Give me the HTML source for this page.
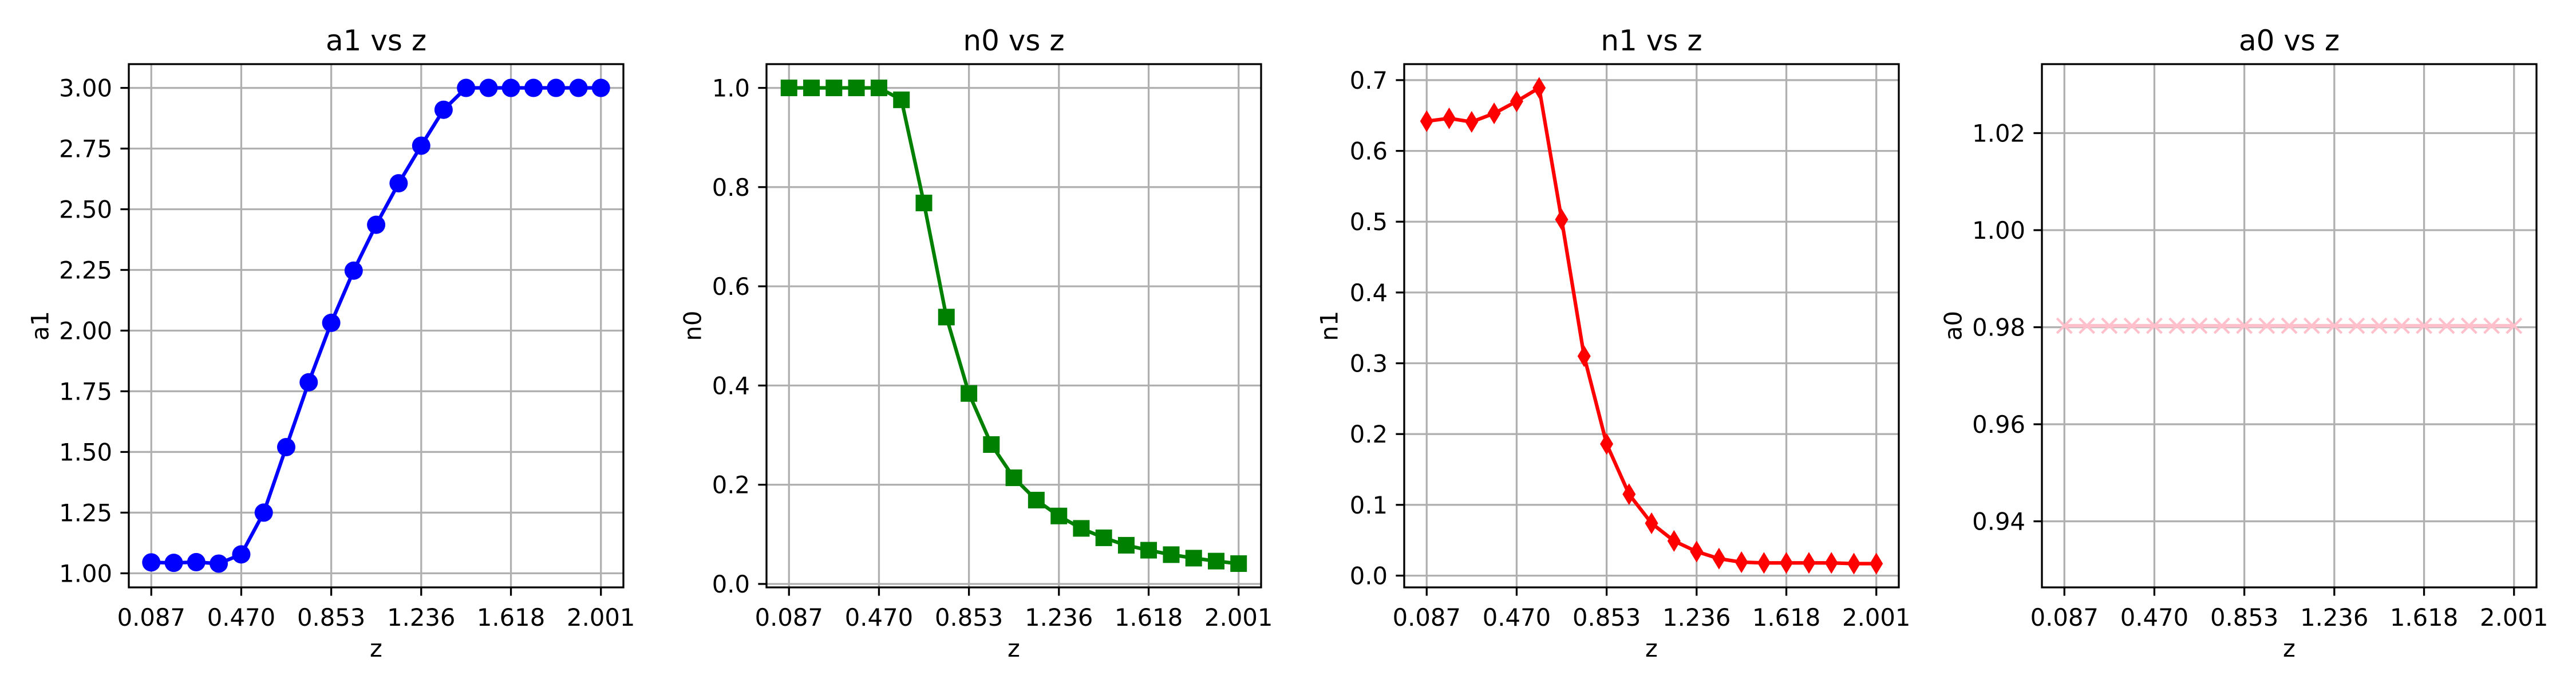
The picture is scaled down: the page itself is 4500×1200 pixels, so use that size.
<!DOCTYPE html>
<html><head><meta charset="utf-8"><style>
html,body{margin:0;padding:0;background:#fff;}
svg{display:block;}
text{font-family:"DejaVu Sans","Liberation Sans",sans-serif;fill:#000;}
</style></head><body>
<svg id="fig" width="4500" height="1200" viewBox="0 0 4500 1200" xmlns="http://www.w3.org/2000/svg"></svg>
<script>
const zValues = [0.087,0.1827,0.2784,0.3741,0.470,0.5657,0.6614,0.7571,0.853,0.9485,1.0442,1.1399,1.236,1.3313,1.427,1.5227,1.618,1.7141,1.8098,1.9055,2.001];
const a1Values = [1.045,1.043,1.046,1.040,1.078,1.250,1.520,1.787,2.032,2.247,2.436,2.607,2.762,2.910,3.0,3.0,3.0,3.0,3.0,3.0,3.0];
const n0Values = [1.0,1.0,1.0,1.0,1.0,0.976,0.768,0.538,0.384,0.281,0.214,0.169,0.137,0.112,0.093,0.078,0.068,0.059,0.052,0.046,0.041];
const n1Values = [0.642,0.646,0.641,0.653,0.670,0.689,0.503,0.310,0.186,0.115,0.074,0.049,0.034,0.024,0.019,0.018,0.018,0.018,0.018,0.017,0.017];
const a0Values = [0.9803,0.9803,0.9803,0.9803,0.9803,0.9803,0.9803,0.9803,0.9803,0.9803,0.9803,0.9803,0.9803,0.9803,0.9803,0.9803,0.9803,0.9803,0.9803,0.9803,0.9803];
const xTickLabels = ["0.087","0.470","0.853","1.236","1.618","2.001"];
const a1Ticks = ["1.00","1.25","1.50","1.75","2.00","2.25","2.50","2.75","3.00"];
const n0Ticks = ["0.0","0.2","0.4","0.6","0.8","1.0"];
const n1Ticks = ["0.0","0.1","0.2","0.3","0.4","0.5","0.6","0.7"];
const a0Ticks = ["0.94","0.96","0.98","1.00","1.02"];

const NS = "http://www.w3.org/2000/svg";
const svg = document.getElementById('fig');
function mk(tag, attrs, parent){
  const e = document.createElementNS(NS, tag);
  for (const k in attrs) e.setAttribute(k, attrs[k]);
  (parent||svg).appendChild(e);
  return e;
}
const TOP=112, BOT=1026, W=864;
const panels = [
  {left:225, title:"a1 vs z", ylab:"a1", vals:a1Values, ticks:a1Ticks, color:"#0000ff", marker:"circle", labOff:155, key:"a1"},
  {left:1339, title:"n0 vs z", ylab:"n0", vals:n0Values, ticks:n0Ticks, color:"#008000", marker:"square", labOff:129, key:"n0"},
  {left:2453, title:"n1 vs z", ylab:"n1", vals:n1Values, ticks:n1Ticks, color:"#ff0000", marker:"diamond", labOff:131, key:"n1"},
  {left:3567, title:"a0 vs z", ylab:"a0", vals:a0Values, ticks:a0Ticks, color:"#ffc0cb", marker:"x", labOff:155, key:"a0"}
];
const xmin0 = Math.min(...zValues), xmax0 = Math.max(...zValues);
const xpad = (xmax0-xmin0)*0.05;
const xlo = xmin0-xpad, xhi = xmax0+xpad;

panels.forEach(p => {
  const g = mk('g', {});
  
  
  let ymin = Math.min(...p.vals), ymax = Math.max(...p.vals);
  if (ymax - ymin < 1e-9) { const d = Math.abs(ymin)*0.05 || 0.05; ymin -= d; ymax += d; }
  const ypad = (ymax-ymin)*0.05;
  const ylo = ymin-ypad, yhi = ymax+ypad;
  const X = v => p.left + (v-xlo)/(xhi-xlo)*W;
  const Y = v => BOT - (v-ylo)/(yhi-ylo)*(BOT-TOP);
  xTickLabels.forEach(t => {
    const x = X(parseFloat(t));
    const gl = mk('line', {x1:x,x2:x,y1:TOP,y2:BOT,stroke:'#b0b0b0','stroke-width':3.3}, g);
    
    
    mk('line', {x1:x,x2:x,y1:BOT,y2:BOT+14.6,stroke:'#000','stroke-width':3.3}, g);
    const tx = mk('text', {x:x,y:1093,'font-size':41.7,'text-anchor':'middle'}, g);
    tx.textContent = t;
    
    
  });
  p.ticks.forEach(t => {
    const y = Y(parseFloat(t));
    const gl = mk('line', {x1:p.left,x2:p.left+W,y1:y,y2:y,stroke:'#b0b0b0','stroke-width':3.3}, g);
    
    
    mk('line', {x1:p.left-14.6,x2:p.left,y1:y,y2:y,stroke:'#000','stroke-width':3.3}, g);
    const tx = mk('text', {x:p.left-29,y:y+15,'font-size':41.7,'text-anchor':'end'}, g);
    tx.textContent = t;
    
    
  });
  const pts = zValues.map((z,i)=>X(z).toFixed(1)+','+Y(p.vals[i]).toFixed(1)).join(' ');
  const pl = mk('polyline', {points:pts,fill:'none',stroke:p.color,'stroke-width':6.25,'stroke-linejoin':'round'}, g);
  
  
  zValues.forEach((z,i) => {
    const cx = X(z), cy = Y(p.vals[i]);
    let m;
    if (p.marker==='circle') m = mk('circle', {cx:cx,cy:cy,r:16,fill:p.color}, g);
    else if (p.marker==='square') m = mk('rect', {x:cx-14.5,y:cy-14.5,width:29,height:29,fill:p.color}, g);
    else if (p.marker==='diamond') m = mk('polygon', {points:`${cx},${cy-19} ${cx+11.5},${cy} ${cx},${cy+19} ${cx-11.5},${cy}`,fill:p.color}, g);
    else m = mk('path', {d:`M${cx-13},${cy-13}L${cx+13},${cy+13}M${cx-13},${cy+13}L${cx+13},${cy-13}`,stroke:p.color,'stroke-width':4.2,fill:'none'}, g);
    
    
  });
  const fr = mk('rect', {x:p.left,y:TOP,width:W,height:BOT-TOP,fill:'none',stroke:'#000','stroke-width':3.3}, g);
  
  
  const ti = mk('text', {x:p.left+W/2,y:88,'font-size':50,'text-anchor':'middle'}, g);
  ti.textContent = p.title;
  
  
  const xl = mk('text', {x:p.left+W/2,y:1147,'font-size':41.7,'text-anchor':'middle'}, g);
  xl.textContent = 'z';
  
  
  const lx = p.left-p.labOff, ly = (TOP+BOT)/2;
  const yl = mk('text', {x:lx,y:ly,'font-size':41.7,'text-anchor':'middle','dominant-baseline':'central',transform:`rotate(-90 ${lx} ${ly})`}, g);
  yl.textContent = p.ylab;
  
  
});
</script>
</body></html>
